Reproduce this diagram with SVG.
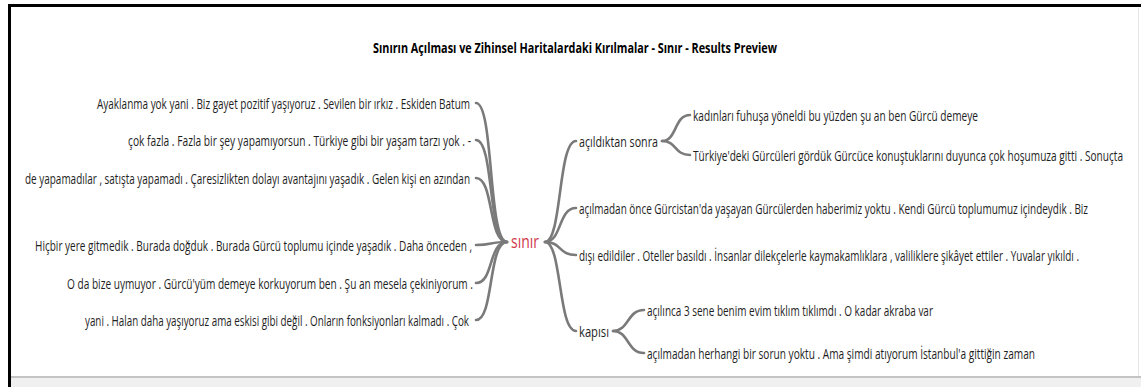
<svg xmlns="http://www.w3.org/2000/svg" width="1141" height="387" viewBox="0 0 1141 387">
<style>
.t{font-family:"Open Sans","Noto Sans","Liberation Sans",sans-serif;font-size:15px;fill:#1e1e1e;dominant-baseline:central}
.title{font-family:"Open Sans","Noto Sans","Liberation Sans",sans-serif;font-size:15px;font-weight:bold;fill:#000;dominant-baseline:central}
.root{font-family:"Open Sans","Noto Sans","Liberation Sans",sans-serif;font-size:18px;fill:#d23a4a;dominant-baseline:central}
.c{fill:none;stroke:#7a7a7a;stroke-width:2.6;stroke-linecap:round}
</style>
<rect x="0" y="0" width="1141" height="387" fill="#ffffff"/>
<rect x="10" y="376" width="1131" height="11" fill="#f0f0f0"/>
<line x1="10" y1="377" x2="1141" y2="377" stroke="#c4c4c4" stroke-width="2"/>
<line x1="8" y1="5.5" x2="1141" y2="5.5" stroke="#000" stroke-width="3"/>
<line x1="9.5" y1="4" x2="9.5" y2="387" stroke="#000" stroke-width="3"/>
<line x1="1138.5" y1="8" x2="1138.5" y2="376" stroke="#e6e6e6" stroke-width="1"/>

<g id="title"><text class="title" x="373" y="47" textLength="404" lengthAdjust="spacingAndGlyphs">Sınırın Açılması ve Zihinsel Haritalardaki Kırılmalar - Sınır - Results Preview</text></g>

<g id="connectors">
<path class="c" d="M476 103 C494 103,488 242,507 242"/>
<path class="c" d="M476 140 C494 140,488 242,507 242"/>
<path class="c" d="M476 178 C494 178,488 242,507 242"/>
<path class="c" d="M476 245 C494 245,488 242,507 242"/>
<path class="c" d="M476 283 C494 283,488 242,507 242"/>
<path class="c" d="M476 320 C494 320,488 242,507 242"/>
<path class="c" d="M545 242 C562 242,558 141,576 141"/>
<path class="c" d="M545 242 C562 242,558 208,576 208"/>
<path class="c" d="M545 242 C562 242,558 255,576 255"/>
<path class="c" d="M545 242 C562 242,558 331,576 331"/>
<path class="c" d="M662 141 C677 141,674 115,690 115"/>
<path class="c" d="M662 141 C677 141,674 155,690 155"/>
<path class="c" d="M613 331 C629 331,627 310,644 310"/>
<path class="c" d="M613 331 C629 331,627 353,644 353"/>
</g>

<g id="node-sinir"><text class="root" x="511" y="241" textLength="28" lengthAdjust="spacingAndGlyphs">sınır</text></g>

<g id="node-l1"><text class="t" x="97" y="103" textLength="373" lengthAdjust="spacingAndGlyphs">Ayaklanma yok yani . Biz gayet pozitif yaşıyoruz . Sevilen bir ırkız . Eskiden Batum</text></g>
<g id="node-l2"><text class="t" x="128" y="140" textLength="343" lengthAdjust="spacingAndGlyphs">çok fazla . Fazla bir şey yapamıyorsun . Türkiye gibi bir yaşam tarzı yok . -</text></g>
<g id="node-l3"><text class="t" x="25" y="178" textLength="445" lengthAdjust="spacingAndGlyphs">de yapamadılar , satışta yapamadı . Çaresizlikten dolayı avantajını yaşadık . Gelen kişi en azından</text></g>
<g id="node-l4"><text class="t" x="35" y="245" textLength="437" lengthAdjust="spacingAndGlyphs">Hiçbir yere gitmedik . Burada doğduk . Burada Gürcü toplumu içinde yaşadık . Daha önceden ,</text></g>
<g id="node-l5"><text class="t" x="67" y="283" textLength="406" lengthAdjust="spacingAndGlyphs">O da bize uymuyor . Gürcü'yüm demeye korkuyorum ben . Şu an mesela çekiniyorum .</text></g>
<g id="node-l6"><text class="t" x="85" y="320" textLength="384" lengthAdjust="spacingAndGlyphs">yani . Halan daha yaşıyoruz ama eskisi gibi değil . Onların fonksiyonları kalmadı . Çok</text></g>

<g id="node-acildiktan"><text class="t" x="579" y="141" textLength="79" lengthAdjust="spacingAndGlyphs">açıldıktan sonra</text></g>
<g id="node-r1a"><text class="t" x="693" y="115" textLength="285" lengthAdjust="spacingAndGlyphs">kadınları fuhuşa yöneldi bu yüzden şu an ben Gürcü demeye</text></g>
<g id="node-r1b"><text class="t" x="693" y="155" textLength="430" lengthAdjust="spacingAndGlyphs">Türkiye'deki Gürcüleri gördük Gürcüce konuştuklarını duyunca çok hoşumuza gitti . Sonuçta</text></g>
<g id="node-r2"><text class="t" x="579" y="208" textLength="509" lengthAdjust="spacingAndGlyphs">açılmadan önce Gürcistan'da yaşayan Gürcülerden haberimiz yoktu . Kendi Gürcü toplumumuz içindeydik . Biz</text></g>
<g id="node-r3"><text class="t" x="579" y="255" textLength="500" lengthAdjust="spacingAndGlyphs">dışı edildiler . Oteller basıldı . İnsanlar dilekçelerle kaymakamlıklara , valiliklere şikâyet ettiler . Yuvalar yıkıldı .</text></g>
<g id="node-kapisi"><text class="t" x="579" y="331" textLength="30" lengthAdjust="spacingAndGlyphs">kapısı</text></g>
<g id="node-r4a"><text class="t" x="647" y="310" textLength="286" lengthAdjust="spacingAndGlyphs">açılınca 3 sene benim evim tıklım tıklımdı . O kadar akraba var</text></g>
<g id="node-r4b"><text class="t" x="647" y="353" textLength="388" lengthAdjust="spacingAndGlyphs">açılmadan herhangi bir sorun yoktu . Ama şimdi atıyorum İstanbul'a gittiğin zaman</text></g>
</svg>
